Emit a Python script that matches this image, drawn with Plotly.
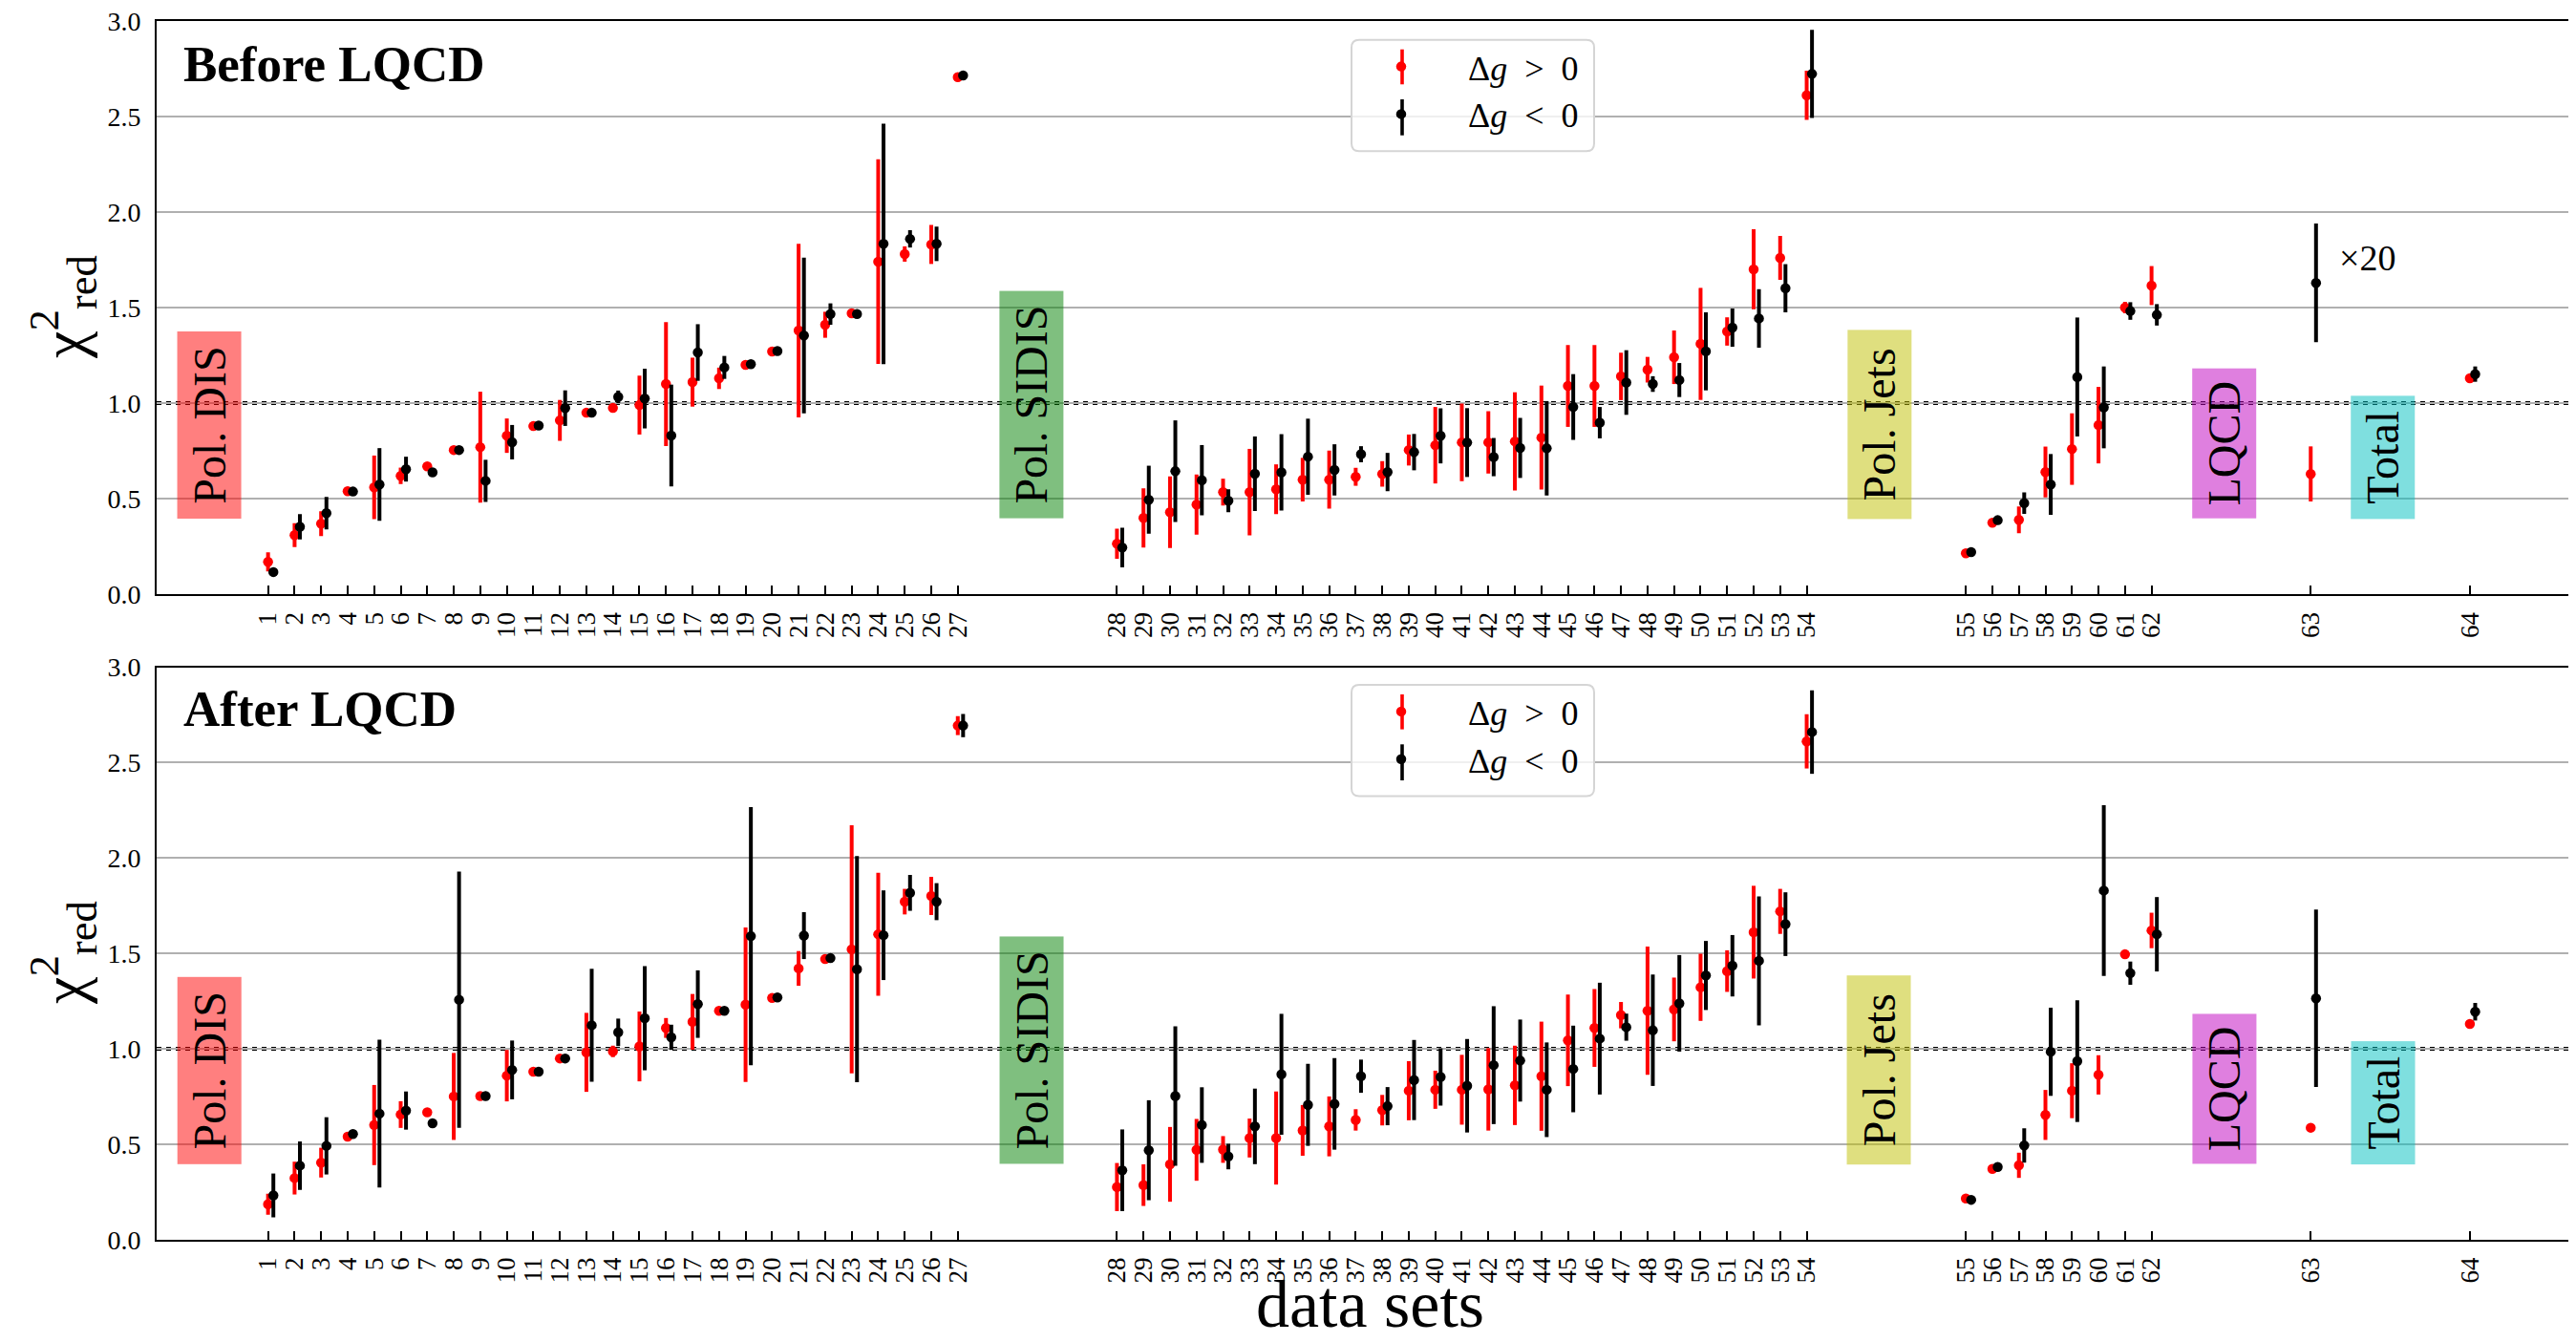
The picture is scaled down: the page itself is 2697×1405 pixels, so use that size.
import plotly.graph_objects as go

# ---------------- data ----------------
datasets = list(range(1, 65))
group_sizes = [27, 27, 8, 1, 1]          # Pol. DIS, Pol. SIDIS, Pol. Jets, LQCD, Total
group_names = ["Pol. DIS", "Pol. SIDIS", "Pol. Jets", "LQCD", "Total"]

# Before LQCD
before_pos_val = [0.17, 0.31, 0.37, 0.54, 0.56, 0.62, 0.67, 0.755, 0.77, 0.83, 0.88, 0.91, 0.95, 0.975, 0.99, 1.10, 1.11, 1.13, 1.20, 1.27, 1.38, 1.41, 1.47, 1.74, 1.78, 1.83, 2.705,
                  0.265, 0.40, 0.43, 0.47, 0.535, 0.535, 0.55, 0.60, 0.60, 0.615, 0.63, 0.755, 0.78, 0.795, 0.795, 0.80, 0.82, 1.09, 1.09, 1.14, 1.175, 1.24, 1.31, 1.375, 1.70, 1.76, 2.61,
                  0.215, 0.375, 0.39, 0.64, 0.76, 0.885, 1.50, 1.615, 0.63, 1.13]
before_pos_err = [0.05, 0.063, 0.065, 0.01, 0.166, 0.043, 0.015, 0.01, 0.29, 0.09, 0.01, 0.107, 0.01, 0.02, 0.154, 0.324, 0.128, 0.056, 0.01, 0.01, 0.454, 0.068, 0.01, 0.535, 0.04, 0.102, 0.015,
                  0.079, 0.155, 0.187, 0.157, 0.07, 0.226, 0.13, 0.114, 0.152, 0.047, 0.067, 0.081, 0.2, 0.203, 0.163, 0.257, 0.272, 0.214, 0.214, 0.124, 0.067, 0.14, 0.293, 0.074, 0.209, 0.115, 0.129,
                  0.01, 0.01, 0.07, 0.133, 0.187, 0.2, 0.03, 0.102, 0.144, 0.02]
before_neg_val = [0.117, 0.354, 0.425, 0.538, 0.575, 0.655, 0.638, 0.755, 0.594, 0.796, 0.883, 0.974, 0.95, 1.033, 1.024, 0.831, 1.265, 1.187, 1.204, 1.273, 1.354, 1.466, 1.466, 1.833, 1.859, 1.833, 2.714,
                  0.245, 0.495, 0.644, 0.597, 0.49, 0.631, 0.638, 0.72, 0.651, 0.733, 0.64, 0.744, 0.829, 0.794, 0.718, 0.766, 0.764, 0.98, 0.898, 1.108, 1.10, 1.121, 1.271, 1.395, 1.443, 1.601, 2.722,
                  0.221, 0.388, 0.477, 0.575, 1.137, 0.978, 1.482, 1.462, 1.629, 1.152]
before_neg_err = [0.01, 0.066, 0.085, 0.01, 0.19, 0.065, 0.01, 0.01, 0.11, 0.09, 0.01, 0.093, 0.01, 0.033, 0.156, 0.266, 0.148, 0.06, 0.01, 0.01, 0.407, 0.056, 0.01, 0.629, 0.045, 0.09, 0.01,
                  0.104, 0.178, 0.266, 0.184, 0.06, 0.195, 0.2, 0.199, 0.134, 0.042, 0.1, 0.095, 0.144, 0.18, 0.1, 0.157, 0.247, 0.172, 0.082, 0.169, 0.041, 0.089, 0.204, 0.1, 0.153, 0.126, 0.23,
                  0.01, 0.01, 0.056, 0.159, 0.311, 0.214, 0.046, 0.056, 0.31, 0.04]

# After LQCD
after_pos_val = [0.185, 0.322, 0.403, 0.539, 0.60, 0.655, 0.667, 0.75, 0.752, 0.859, 0.88, 0.949, 0.981, 0.986, 1.012, 1.109, 1.141, 1.199, 1.231, 1.266, 1.421, 1.47, 1.521, 1.60, 1.771, 1.801, 2.694,
                 0.275, 0.285, 0.394, 0.47, 0.472, 0.532, 0.532, 0.572, 0.593, 0.627, 0.678, 0.78, 0.785, 0.785, 0.787, 0.808, 0.856, 1.044, 1.109, 1.176, 1.199, 1.206, 1.322, 1.407, 1.611, 1.72, 2.611,
                 0.215, 0.37, 0.389, 0.653, 0.78, 0.863, 1.495, 1.62, 0.586, 1.13]
after_pos_err = [0.055, 0.086, 0.078, 0.01, 0.21, 0.07, 0.01, 0.228, 0.01, 0.135, 0.01, 0.01, 0.207, 0.03, 0.183, 0.052, 0.146, 0.01, 0.405, 0.01, 0.091, 0.01, 0.65, 0.322, 0.067, 0.1, 0.05,
                 0.126, 0.109, 0.196, 0.162, 0.07, 0.102, 0.244, 0.133, 0.157, 0.056, 0.08, 0.155, 0.1, 0.183, 0.216, 0.208, 0.286, 0.24, 0.204, 0.069, 0.336, 0.167, 0.176, 0.109, 0.243, 0.118, 0.142,
                 0.01, 0.01, 0.066, 0.131, 0.144, 0.103, 0.02, 0.093, 0.0, 0.01]
after_neg_val = [0.231, 0.387, 0.491, 0.553, 0.66, 0.676, 0.609, 1.257, 0.752, 0.889, 0.88, 0.949, 1.123, 1.086, 1.16, 1.06, 1.234, 1.199, 1.59, 1.269, 1.593, 1.475, 1.417, 1.595, 1.817, 1.771, 2.694,
                 0.363, 0.468, 0.752, 0.60, 0.435, 0.593, 0.866, 0.706, 0.711, 0.856, 0.699, 0.836, 0.852, 0.806, 0.914, 0.938, 0.785, 0.894, 1.053, 1.113, 1.097, 1.238, 1.384, 1.435, 1.461, 1.653, 2.66,
                 0.208, 0.38, 0.493, 0.984, 0.935, 1.829, 1.396, 1.60, 1.264, 1.194]
after_neg_err = [0.115, 0.127, 0.15, 0.01, 0.387, 0.1, 0.01, 0.672, 0.01, 0.154, 0.01, 0.01, 0.296, 0.072, 0.273, 0.066, 0.177, 0.01, 0.676, 0.01, 0.123, 0.01, 0.593, 0.235, 0.094, 0.097, 0.061,
                 0.214, 0.262, 0.365, 0.198, 0.067, 0.198, 0.317, 0.215, 0.24, 0.087, 0.1, 0.21, 0.15, 0.245, 0.309, 0.215, 0.248, 0.227, 0.293, 0.071, 0.292, 0.253, 0.181, 0.161, 0.338, 0.167, 0.219,
                 0.01, 0.01, 0.09, 0.231, 0.319, 0.448, 0.061, 0.195, 0.465, 0.046]

ytick_vals = [0.0, 0.5, 1.0, 1.5, 2.0, 2.5, 3.0]

# ---------------- layout helpers ----------------
PAGE = 8                      # default body margin of the html page
W, H = 2697 - PAGE, 1405 - PAGE
ML = 164 - PAGE
PW = W - ML
FONT = "Liberation Serif, DejaVu Serif, serif"


def px_x(px):
    """page-pixel x -> paper fraction"""
    return (px - PAGE - ML) / PW


def px_y(py):
    """page-pixel y -> paper fraction"""
    return 1 - (py - PAGE) / H


# category positions: consecutive inside a group, extra gap between groups
GROUP_GAP = 5
g_index = []
for gi, n in enumerate(group_sizes):
    g_index += [gi] * n
xpos = [d + GROUP_GAP * g for d, g in zip(datasets, g_index)]
OFF = 0.2
xpos_neg = [p + OFF for p in xpos]

fig = go.Figure()

panels = [
    ("x", "y", before_pos_val, before_pos_err, before_neg_val, before_neg_err, "legend"),
    ("x2", "y2", after_pos_val, after_pos_err, after_neg_val, after_neg_err, "legend2"),
]
for xa, ya, pv, pe, nv, ne, leg in panels:
    fig.add_trace(go.Scatter(
        x=xpos, y=pv, mode="markers", xaxis=xa, yaxis=ya,
        marker=dict(color="red", size=10.5),
        error_y=dict(type="data", array=pe, visible=True, color="red", thickness=4, width=0),
        name="Δ<i>g</i>  >  0", legend=leg, showlegend=True, cliponaxis=False))
    fig.add_trace(go.Scatter(
        x=xpos_neg, y=nv, mode="markers", xaxis=xa, yaxis=ya,
        marker=dict(color="black", size=10.5),
        error_y=dict(type="data", array=ne, visible=True, color="black", thickness=4, width=0),
        name="Δ<i>g</i>  &lt;  0", legend=leg, showlegend=True, cliponaxis=False))

top_dom = [px_y(622.3), px_y(21.7)]
bot_dom = [px_y(1297.7), px_y(698.5)]

xaxis_common = dict(
    range=[-3.2, 88.0], tickvals=xpos, ticktext=[str(d) for d in datasets], tickangle=-90,
    ticks="inside", ticklen=9, tickwidth=1.5, tickcolor="black",
    showline=True, linecolor="black", linewidth=2, mirror=True,
    showgrid=False, zeroline=False, ticklabelstandoff=6, automargin=False,
    ticklabeloverflow="allow",
    tickfont=dict(family=FONT, size=27, color="black"),
)
yaxis_common = dict(
    range=[0, 3], tickvals=ytick_vals, ticktext=["%.1f" % v for v in ytick_vals],
    ticks="", showline=True, linecolor="black", linewidth=2, mirror=False,
    showgrid=True, gridcolor="#b0b0b0", gridwidth=1.6, zeroline=False, ticklabelstandoff=9,
    automargin=False, ticklabeloverflow="allow",
    tickfont=dict(family=FONT, size=28, color="black"),
)

fig.update_layout(
    width=W, height=H,
    margin=dict(l=ML, r=0, t=0, b=0, autoexpand=False),
    paper_bgcolor="white", plot_bgcolor="white",
    xaxis=dict(domain=[0, 1], anchor="y", **xaxis_common),
    yaxis=dict(domain=top_dom, anchor="x", **yaxis_common),
    xaxis2=dict(domain=[0, 1], anchor="y2", **xaxis_common),
    yaxis2=dict(domain=bot_dom, anchor="x2", **yaxis_common),
    font=dict(family=FONT, color="black"),
)

# legends
for key, top in (("legend", 41.7), ("legend2", 717.0)):
    fig.update_layout(**{key: dict(
        x=px_x(1397), y=px_y(top - 2), xanchor="left", yanchor="top",
        bgcolor="rgba(0,0,0,0)", borderwidth=0,
        font=dict(family=FONT, size=36, color="black"),
        itemwidth=130, tracegroupgap=0,
    )})

shapes = []
annotations = []


def rounded_box(x0, y0, x1, y1, r):
    X0, X1 = px_x(x0), px_x(x1)
    Y0, Y1 = px_y(y0), px_y(y1)
    rx, ry = r / PW, r / H
    return ("M {a},{b} L {c},{b} Q {X1},{Y0} {X1},{d} L {X1},{e} Q {X1},{Y1} {c},{Y1} "
            "L {a},{Y1} Q {X0},{Y1} {X0},{e} L {X0},{d} Q {X0},{Y0} {a},{b} Z").format(
        a=X0 + rx, b=Y0, c=X1 - rx, d=Y0 - ry, e=Y1 + ry, X0=X0, X1=X1, Y0=Y0, Y1=Y1)


for top in (41.7, 717.0):
    shapes.append(dict(type="path", xref="paper", yref="paper",
                       path=rounded_box(1415, top, 1669, top + 116.6, 8),
                       fillcolor="rgba(255,255,255,0.8)", line=dict(color="#d5d5d5", width=2),
                       layer="above"))
    for dy0, dy1, col in ((10.0, 46.6, "red"), (62.3, 100.0, "black")):
        shapes.append(dict(type="line", xref="paper", yref="paper",
                           x0=px_x(1468), x1=px_x(1468), y0=px_y(top + dy0), y1=px_y(top + dy1),
                           line=dict(color=col, width=3.6), layer="above"))

# reference line at chi2 = 1
for ya in ("y", "y2"):
    shapes.append(dict(type="line", xref="paper", yref=ya, x0=0, x1=1, y0=1, y1=1,
                       line=dict(color="black", width=4, dash="5px,5px"), layer="between"))

# group label boxes (x centre, y centre, length in px)
box_specs = [
    ("Pol. DIS", -1.21, 0.887, 196, "rgba(255,0,0,0.5)"),
    ("Pol. SIDIS", 29.78, 0.9925, 238, "rgba(0,128,0,0.5)"),
    ("Pol. Jets", 61.73, 0.8905, 198, "rgba(191,191,0,0.5)"),
    ("LQCD", 74.73, 0.7895, 157, "rgba(191,0,191,0.5)"),
    ("Total", 80.72, 0.718, 129, "rgba(0,191,191,0.5)"),
]
for xa, ya in (("x", "y"), ("x2", "y2")):
    for txt, bx, by, blen, col in box_specs:
        annotations.append(dict(
            text=txt, x=bx, y=by, xref=xa, yref=ya, xanchor="center", yanchor="middle",
            showarrow=False, textangle=-90, bgcolor=col, borderpad=0, borderwidth=0,
            width=blen, height=67, align="center", valign="middle",
            font=dict(family=FONT, size=48, color="black")))

# "x20" note
annotations.append(dict(text="×20", x=80.15, y=1.761, xref="x", yref="y", showarrow=False,
                        xanchor="center", yanchor="middle",
                        font=dict(family=FONT, size=38, color="black")))

# panel titles
annotations.append(dict(text="<b>Before LQCD</b>", x=px_x(190), y=px_y(67), xref="paper", yref="paper",
                        xanchor="left", yanchor="middle", showarrow=False,
                        font=dict(family=FONT, size=53, color="black")))
annotations.append(dict(text="<b>After LQCD</b>", x=px_x(190), y=px_y(742), xref="paper", yref="paper",
                        xanchor="left", yanchor="middle", showarrow=False,
                        font=dict(family=FONT, size=53, color="black")))

# y titles
for cy in (322.0, 998.0):
    annotations.append(dict(text="χ<sup>2</sup><sub>red</sub>", x=px_x(66), y=px_y(cy),
                            xref="paper", yref="paper", xanchor="center", yanchor="middle",
                            textangle=-90, showarrow=False,
                            font=dict(family=FONT, size=64, color="black")))

# x title
annotations.append(dict(text="data sets", x=px_x(1434), y=px_y(1365), xref="paper", yref="paper",
                        xanchor="center", yanchor="middle", showarrow=False,
                        font=dict(family=FONT, size=70, color="black")))

fig.update_layout(shapes=shapes, annotations=annotations)
fig.write_html("out.html")
